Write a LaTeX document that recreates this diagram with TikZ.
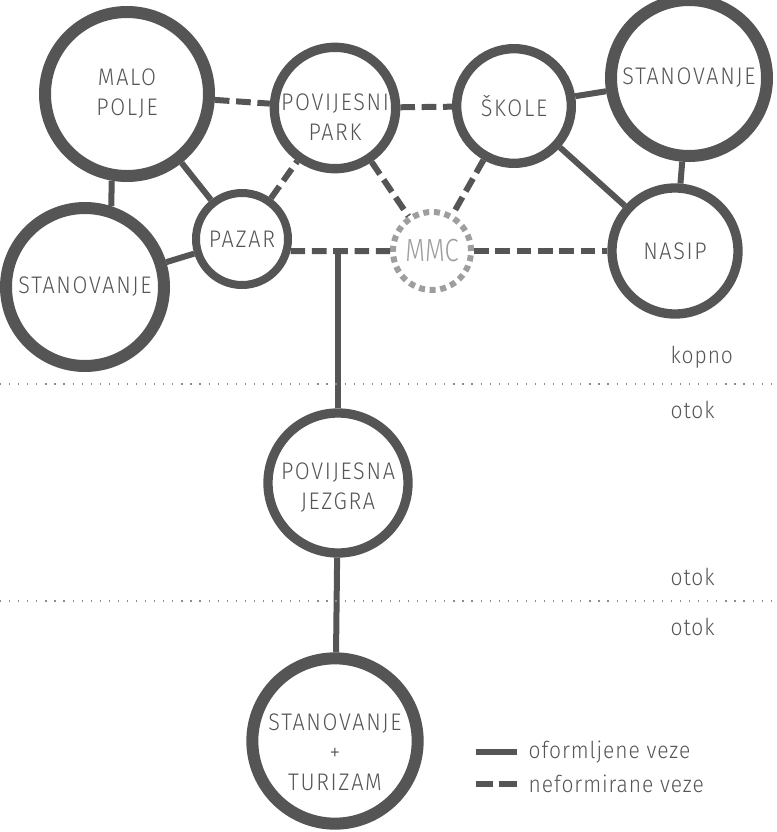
\documentclass[tikz,border=0pt]{standalone}
\usepackage{fontspec}
\setmainfont{Fira Sans}[UprightFont={* Light}, FakeStretch=0.9, LetterSpace=7]
\usetikzlibrary{calc}

\definecolor{ink}{HTML}{555555}
\definecolor{mmcgray}{HTML}{9E9E9E}
\definecolor{dotgray}{HTML}{8C8C8C}

\tikzset{
  ring/.style={circle, draw=ink, inner sep=0pt, align=center, text=ink,
    font=\fontsize{18}{22.5}\selectfont},
  bigring/.style={ring, line width=9pt},
  midring/.style={ring, line width=7pt},
  smallring/.style={ring, line width=6pt},
  natpis/.style={ring, draw=none},
  veza/.style={draw=ink, line width=4.5pt},
  nveza/.style={draw=ink, line width=4.5pt, dash pattern=on 11pt off 5pt},
  granica/.style={draw=dotgray, line width=0.9pt, dash pattern=on 0.9pt off 5.9pt},
  podloga/.style={text=ink, font=\fontsize{17.5}{18}\selectfont\addfontfeatures{LetterSpace=4}, anchor=west}
}

\begin{document}
\begin{tikzpicture}[x=0.75pt, y=-0.75pt]
    % --- 1. okvir slike ---
    \useasboundingbox (0,0) rectangle (776,832);

    % --- 2. kopno ---
    \node[bigring, minimum size=123pt] (malo) at (127,94) {MALO\\POLJE};
    \node[bigring, minimum size=118.5pt] (stanL) at (85,287) {STANOVANJE};
    \node[smallring, minimum size=69pt] (pazar) at (242,239) {PAZAR};
    \node[midring, minimum size=91pt] (park) at (335,108) {};
    \node[natpis] (parkTxt) at (335,117) {POVIJESNI\\PARK};
    \node[midring, minimum size=86pt] (skole) at (514,106) {ŠKOLE};
    \node[bigring, minimum size=117pt] (stanR) at (689,78) {STANOVANJE};
    \node[midring, minimum size=94.5pt] (nasip) at (675,251) {NASIP};
    \node[ring, draw=mmcgray, text=mmcgray, line width=4.5pt,
          dash pattern=on 4.5pt off 3.5pt, minimum size=58.5pt,
          font=\fontsize{24}{26}\selectfont\addfontfeatures{FakeStretch=0.8, LetterSpace=0}] (mmc) at (432,251) {MMC};

    % --- 3. otok ---
    \node[midring, minimum size=105pt] (jezgra) at (338,483) {};
    \node[natpis] (jezgraTxt) at (338,488) {POVIJESNA\\JEZGRA};
    \node[bigring, minimum size=124pt] (turizam) at (335,741) {};
    \node[natpis] (turizamTxt) at (335,752) {STANOVANJE\\+\\TURIZAM};

    % --- 4. veze ---
    \coordinate (spoj) at (338,251);
    \draw[veza] (malo.-100) -- (stanL.72);
    \draw[veza] (malo) -- (pazar);
    \draw[veza] (stanL) -- (pazar);
    \draw[veza] (skole) -- (stanR);
    \draw[veza] (skole) -- (nasip);
    \draw[veza] (stanR) -- (nasip);
    \draw[veza] (spoj) -- (jezgra);
    \draw[veza] (jezgra) -- (turizam);
    \draw[nveza] (malo) -- (park);
    \draw[nveza] (pazar) -- (park);
    \draw[nveza] (park) -- (skole);
    \draw[nveza] (park) -- (mmc);
    \draw[nveza] (skole) -- (mmc);
    \draw[nveza] (pazar.-14) -- (mmc);
    \draw[nveza] (mmc) -- (nasip);

    % --- 5. granice kopno / otok ---
    \coordinate (g1L) at (0,384);   \coordinate (g1R) at (776,384);
    \coordinate (g2L) at (0,601);   \coordinate (g2R) at (776,601);
    \draw[granica] (g1L) -- (g1R);
    \draw[granica] (g2L) -- (g2R);
    \node[podloga] (kopno) at (666,357) {kopno};
    \node[podloga] (otok1) at (666,410) {otok};
    \node[podloga] (otok2) at (666,577) {otok};
    \node[podloga] (otok3) at (666,627) {otok};

    % --- 6. legenda ---
    \coordinate (leg1a) at (476,752); \coordinate (leg1b) at (517,752);
    \coordinate (leg2a) at (476,784); \coordinate (leg2b) at (517,784);
    \draw[draw=ink, line width=3.8pt] (leg1a) -- (leg1b);
    \draw[draw=ink, line width=3.8pt, dash pattern=on 13pt off 4pt on 15pt off 10pt] (leg2a) -- (leg2b);
    \node[podloga] (legF) at (524,752) {oformljene veze};
    \node[podloga] (legN) at (524,784) {neformirane veze};
\end{tikzpicture}
\end{document}
